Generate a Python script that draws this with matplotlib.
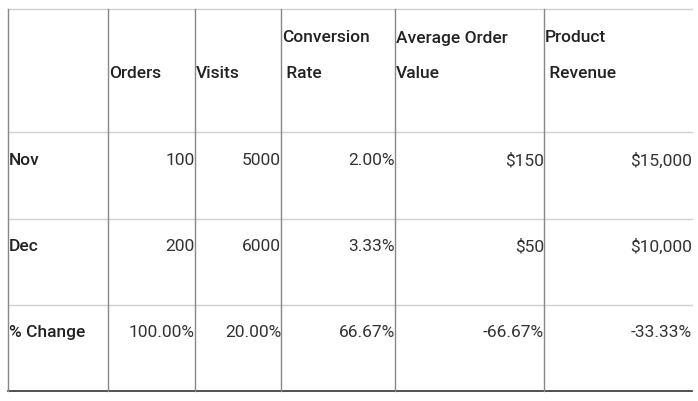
import matplotlib
matplotlib.use("Agg")
import matplotlib.pyplot as plt

header_top = ["", "", "", "Conversion", "Average Order", "Product"]
header_bot = ["", "Orders", "Visits", " Rate", "Value", " Revenue"]
row_labels = ["Nov", "Dec", "% Change"]
orders = ["100", "200", "100.00%"]
visits = ["5000", "6000", "20.00%"]
conv = ["2.00%", "3.33%", "66.67%"]
aov = ["$150", "$50", "-66.67%"]
revenue = ["$15,000", "$10,000", "-33.33%"]

plt.rcParams['font.family'] = ['Roboto', 'DejaVu Sans']
fig = plt.figure(figsize=(6.98, 4.02), dpi=100)
ax = fig.add_axes([0, 0, 1, 1])
ax.set_xlim(0, 698); ax.set_ylim(402, 0); ax.axis('off')

xs = [8, 108, 195, 281, 395, 544, 692]
ys = [10, 133, 220, 306, 392]
for y in ys[:-1]:
    ax.plot([xs[0], xs[-1]], [y, y], color='#d0d0d0', lw=1)
ax.plot([xs[0], xs[-1]], [ys[-1], ys[-1]], color='#333333', lw=1.2)
for x in xs[:-1]:
    ax.plot([x, x], [ys[0], ys[-1]], color='#888888', lw=1)

tc = '#222222'
fs = 12.5
for i in range(1, 6):
    ax.text(xs[i] + 1, 38, header_top[i], ha='left', va='center', fontsize=fs, fontweight='medium', color=tc)
    ax.text(xs[i] + 1, 74, header_bot[i], ha='left', va='center', fontsize=fs, fontweight='medium', color=tc)

cols = [orders, visits, conv, aov, revenue]
for r in range(3):
    yc = (ys[r + 1] + ys[r + 2]) / 2 - 16
    ax.text(xs[0] + 1, yc, row_labels[r], ha='left', va='center', fontsize=fs, fontweight='medium', color=tc)
    for c, col in enumerate(cols):
        ax.text(xs[c + 2], yc, col[r], ha='right', va='center', fontsize=fs, color='#333333')

fig.savefig('out.png', dpi=100)
